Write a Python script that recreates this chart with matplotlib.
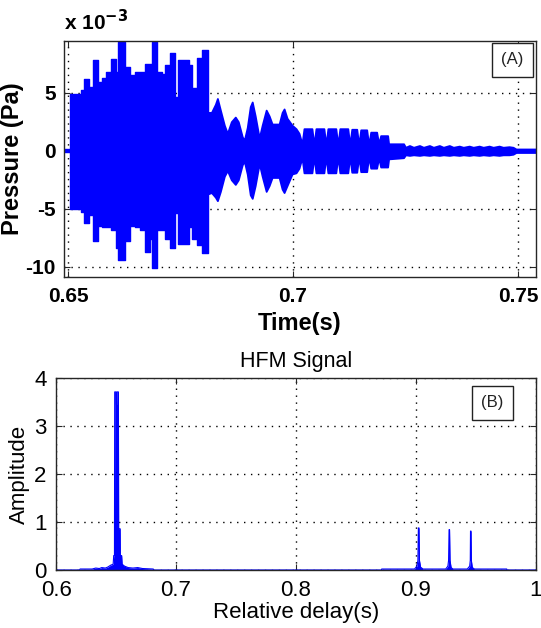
import matplotlib
matplotlib.use("Agg")
import matplotlib.pyplot as plt
import numpy as np

plt.rcParams['font.family'] = ['Liberation Sans', 'DejaVu Sans']

# ---------------- Panel A: pressure signal envelope (units of 1e-3 Pa) ----------------
# dense part: block start times with upper / lower envelope (held until next start)
dense_time = [0.64889, 0.65044, 0.65288, 0.65354, 0.65465, 0.65553, 0.65664, 0.65752,
              0.65841, 0.65951, 0.66062, 0.66106, 0.66261, 0.66372, 0.66482, 0.66593,
              0.66704, 0.66814, 0.66858, 0.66969, 0.67080, 0.67146, 0.67257, 0.67367,
              0.67434, 0.67588, 0.67699, 0.67765, 0.67876, 0.67987, 0.68119]
dense_upper = [0.15, 4.9, 5.2, 6.2, 5.5, 7.8, 5.9, 6.3, 6.8, 7.9, 6.8, 9.4, 7.2, 6.5, 6.8,
               6.8, 7.5, 7.5, 9.4, 6.8, 6.6, 7.4, 8.4, 4.6, 7.8, 7.8, 7.4, 5.4, 8.0, 8.7, 8.7]
dense_lower = [-0.15, -5.0, -5.3, -6.2, -5.5, -7.8, -6.5, -6.6, -6.6, -6.8, -8.4, -9.4, -7.8,
               -6.5, -6.6, -6.8, -8.7, -7.6, -10.1, -6.8, -6.8, -7.6, -8.4, -5.4, -8.0, -8.0,
               -6.6, -7.6, -8.1, -8.8, -8.8]

# decaying part: envelope points
tail_time = [0.68119, 0.68186, 0.68274, 0.68319, 0.68385, 0.68473, 0.68540, 0.68628,
             0.68717, 0.68783, 0.68872, 0.68916, 0.68982, 0.69049, 0.69093, 0.69159,
             0.69248, 0.69314, 0.69403, 0.69469, 0.69535, 0.69690, 0.69757, 0.69801,
             0.69867, 0.69978, 0.70066, 0.70133, 0.70199, 0.70243, 0.70420, 0.70465,
             0.70509, 0.70686, 0.70730, 0.70774, 0.70951, 0.70996, 0.71040, 0.71217,
             0.71261, 0.71305, 0.71416, 0.71460, 0.71504, 0.71637, 0.71681, 0.71726,
             0.71858, 0.71903, 0.71947, 0.72102, 0.72124, 0.72456, 0.72500, 0.72588,
             0.72677, 0.72810, 0.72898, 0.73031, 0.73119, 0.73252, 0.73341, 0.73473,
             0.73562, 0.73695, 0.73783, 0.73916, 0.74004, 0.74137, 0.74226, 0.74358,
             0.74447, 0.74580, 0.74668, 0.74801, 0.74889, 0.74956, 0.75442]
tail_upper = [3.3, 3.3, 4.0, 4.5, 3.5, 2.2, 1.5, 2.5, 2.9, 2.5, 1.2, 0.9, 2.0, 3.8, 4.2, 3.0,
              1.1, 2.2, 3.5, 3.0, 2.3, 2.3, 3.3, 3.6, 2.8, 2.2, 1.9, 1.5, 0.6, 1.9, 1.9, 0.5,
              1.9, 1.9, 0.5, 1.9, 1.9, 0.5, 1.9, 1.9, 0.5, 1.85, 1.85, 0.5, 1.8, 1.8, 0.5,
              1.6, 1.6, 0.6, 1.3, 1.3, 0.6, 0.6, 0.3, 0.45, 0.3, 0.45, 0.3, 0.45, 0.3, 0.45,
              0.3, 0.45, 0.3, 0.4, 0.3, 0.4, 0.3, 0.4, 0.3, 0.4, 0.3, 0.4, 0.3, 0.35, 0.3,
              0.15, 0.15]
tail_lower = [-3.7, -3.6, -4.0, -4.3, -3.5, -2.2, -1.7, -2.5, -2.9, -2.5, -1.2, -0.9, -2.0,
              -3.8, -4.1, -3.0, -1.1, -2.2, -3.5, -3.0, -2.3, -2.3, -3.3, -3.6, -3.0, -2.0,
              -1.9, -1.5, -0.6, -1.9, -1.9, -0.5, -1.9, -1.9, -0.5, -1.9, -1.9, -0.5, -1.9,
              -1.9, -0.5, -1.85, -1.85, -0.5, -1.8, -1.8, -0.5, -1.5, -1.5, -0.6, -1.4, -1.4,
              -0.7, -0.6, -0.35, -0.4, -0.35, -0.4, -0.35, -0.4, -0.35, -0.4, -0.35, -0.4,
              -0.35, -0.4, -0.35, -0.4, -0.35, -0.4, -0.35, -0.4, -0.35, -0.4, -0.35, -0.35,
              -0.3, -0.15, -0.15]

time_ticks = [0.65, 0.7, 0.75]
time_ticklabels = ['0.65', '0.7', '0.75']
pressure_ticks = [-10, -5, 0, 5]

# ---------------- Panel B: matched-filter output ----------------
delay = [0.600, 0.6195, 0.6199, 0.630, 0.633, 0.636, 0.638, 0.641, 0.643, 0.6455, 0.6475,
         0.6480, 0.6486, 0.6488, 0.6499, 0.6502, 0.6504, 0.6507, 0.6519, 0.6521, 0.6533,
         0.6535, 0.6546, 0.6550, 0.6570, 0.6600, 0.6640, 0.6680, 0.6720, 0.6810, 0.6812,
         0.8714, 0.8716, 0.8990, 0.9010, 0.9018, 0.9022, 0.9027, 0.9031, 0.9040, 0.9060,
         0.9250, 0.9268, 0.9274, 0.9278, 0.9282, 0.9286, 0.9295, 0.9310, 0.9430, 0.9450,
         0.9455, 0.9457, 0.9461, 0.9464, 0.9472, 0.9490, 0.9759, 0.9761, 1.0]
amplitude = [0.0, 0.0, 0.02, 0.02, 0.04, 0.03, 0.05, 0.04, 0.06, 0.10, 0.12,
             0.30, 0.30, 3.71, 3.71, 3.45, 3.45, 3.71, 3.71, 0.86, 0.86,
             0.30, 0.30, 0.12, 0.08, 0.05, 0.04, 0.05, 0.03, 0.02, 0.0,
             0.0, 0.02, 0.02, 0.08, 0.20, 0.876, 0.876, 0.20, 0.06, 0.02,
             0.02, 0.08, 0.20, 0.84, 0.84, 0.20, 0.05, 0.02, 0.02, 0.08,
             0.20, 0.81, 0.81, 0.20, 0.05, 0.02, 0.02, 0.0, 0.0]
delay_ticks = [0.6, 0.7, 0.8, 0.9, 1.0]
delay_ticklabels = ['0.6', '0.7', '0.8', '0.9', '1']
amp_ticks = [0, 1, 2, 3, 4]

BLUE = '#0000ff'
SPINE = '#262626'

fig = plt.figure(figsize=(5.41, 6.28), dpi=100)

def style_axes(ax):
    for s in ax.spines.values():
        s.set_color(SPINE)
        s.set_linewidth(1.0)
    ax.grid(True, color='k', linestyle=(0, (1, 4)), linewidth=1.0)
    ax.set_axisbelow(True)
    ax.tick_params(direction='in', length=4, width=0.8, top=True, right=True, color=SPINE)

# ---- top axes
axA = fig.add_axes([0.1183, 0.5584, 0.8725, 0.3763])
style_axes(axA)
axA.fill_between(dense_time, dense_lower, dense_upper, step='post', color=BLUE, linewidth=1.0)
axA.fill_between(tail_time, tail_lower, tail_upper, color=BLUE, edgecolor=BLUE, linewidth=1.3)
axA.set_xlim(0.6491, 0.7540)
axA.set_ylim(-10.9, 9.45)
axA.set_xticks(time_ticks)
axA.set_xticklabels(time_ticklabels)
axA.set_yticks(pressure_ticks)
axA.set_yticklabels([str(v) for v in pressure_ticks])
for lab in axA.get_xticklabels() + axA.get_yticklabels():
    lab.set_fontsize(15)
    lab.set_fontweight('bold')
axA.tick_params(axis='x', pad=7)
axA.tick_params(axis='y', pad=6)
axA.set_xlabel('Time(s)', fontsize=17, fontweight='bold', labelpad=4)
axA.set_ylabel('Pressure (Pa)', fontsize=17, fontweight='bold', labelpad=1)
axA.text(0.0, 1.03, r'x 10$^{\mathbf{-3}}$', transform=axA.transAxes, fontsize=15,
         fontweight='bold', ha='left', va='bottom')
axA.text(0.95, 0.92, '(A)', transform=axA.transAxes, fontsize=12, ha='center', va='center',
         color='#222222',
         bbox=dict(boxstyle='square,pad=0.55', facecolor='white', edgecolor='#222222', linewidth=1.0))

# ---- bottom axes
axB = fig.add_axes([0.1039, 0.0924, 0.8861, 0.3057])
style_axes(axB)
axB.fill_between(delay, 0, amplitude, color=BLUE, linewidth=0)
axB.plot(delay, amplitude, color=BLUE, linewidth=0.8)
axB.set_xlim(0.6, 1.0)
axB.set_ylim(0, 4)
axB.set_xticks(delay_ticks)
axB.set_xticklabels(delay_ticklabels)
axB.set_yticks(amp_ticks)
for lab in axB.get_xticklabels() + axB.get_yticklabels():
    lab.set_fontsize(16)
axB.tick_params(axis='x', pad=7)
axB.tick_params(axis='y', pad=7)
axB.set_xlabel('Relative delay(s)', fontsize=16, labelpad=1)
axB.set_ylabel('Amplitude', fontsize=16, labelpad=3)
axB.set_title('HFM Signal', fontsize=15.5, pad=8)
axB.text(0.91, 0.87, '(B)', transform=axB.transAxes, fontsize=12, ha='center', va='center',
         color='#222222',
         bbox=dict(boxstyle='square,pad=0.55', facecolor='white', edgecolor='#222222', linewidth=1.0))

fig.savefig('out.png', dpi=100)
